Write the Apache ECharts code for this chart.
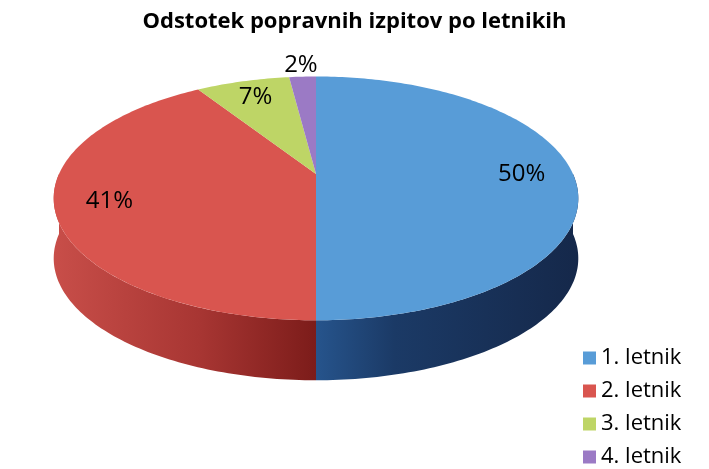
<!DOCTYPE html>
<html>
<head>
<meta charset="utf-8">
<script src="https://cdn.jsdelivr.net/npm/echarts@6/dist/echarts.min.js"></script>
<style>html,body{margin:0;padding:0;background:#fff}#c{width:709px;height:469px}</style>
</head>
<body>
<div id="c"></div>
<script>
// ---- data ----
const titleText = 'Odstotek popravnih izpitov po letnikih';
const categories = ['1. letnik', '2. letnik', '3. letnik', '4. letnik'];
const values = [50, 41, 7, 2];

// ---- styles ----
const topColors = ['#589CD7', '#D9554F', '#BED566', '#9B7AC5'];
const sideStops = [
  [[0, '#26548C'], [0.3, '#1B3A66'], [1, '#15284A']],
  [[0, '#C84E49'], [0.55, '#A83633'], [1, '#7C1C1A']],
  [[0, '#8FA24A'], [1, '#6F7F36']],
  [[0, '#74579A'], [1, '#573F76']]
];
const FONT = '"Open Sans", "Noto Sans", sans-serif';

// ---- 3D pie layout (projection parameters) ----
const L = { cx: 316, cy: 174, rx: 257, ry: 117, p: 0.2, depth: 60 };

function proj(t, r, dy) {
  const X = r * Math.sin(t), Z = r * Math.cos(t);
  const s = 1 / (1 + L.p * Z);
  return [L.cx + L.rx * X * s, L.cy - L.ry * Z * s + (dy || 0)];
}
function arcPts(a, b, r, dy) {
  const n = Math.max(2, Math.ceil((b - a) / (Math.PI / 180)));
  const pts = [];
  for (let k = 0; k <= n; k++) pts.push(proj(a + (b - a) * k / n, r, dy));
  return pts;
}

const total = values.reduce((s, v) => s + v, 0);
function sliceRange(i) {
  let acc = 0;
  for (let k = 0; k < i; k++) acc += values[k];
  const a = acc / total * Math.PI * 2;
  const b = (acc + values[i]) / total * Math.PI * 2;
  return [a, b];
}

function renderSlice(params, api) {
  const i = params.seriesIndex;
  const [a, b] = sliceRange(i);
  const children = [];
  // visible front side wall
  const sa = Math.max(a, Math.PI / 2), sb = Math.min(b, Math.PI * 1.5);
  if (sb > sa) {
    const topEdge = arcPts(sa, sb, 1, 0);
    const botEdge = arcPts(sa, sb, 1, L.depth).reverse();
    children.push({
      type: 'polygon', silent: true, z2: 1,
      shape: { points: topEdge.concat(botEdge) },
      style: { fill: { type: 'linear', x: 0, y: 0, x2: 1, y2: 0,
        colorStops: sideStops[i].map(s => ({ offset: s[0], color: s[1] })) } }
    });
  }
  // top face
  children.push({
    type: 'polygon', silent: true, z2: 5,
    shape: { points: [proj(0, 0, 0)].concat(arcPts(a, b, 1, 0)) },
    style: { fill: api.visual('color') }
  });
  // label
  const frac = values[i] / total;
  const mid = (a + b) / 2;
  const pos = frac >= 0.05 ? proj(mid, 0.8, 0) : proj(mid, 1.15, 0);
  children.push({
    type: 'text', silent: true, z2: 20, x: pos[0], y: pos[1],
    style: { text: Math.round(frac * 100) + '%', fill: '#000',
      fontSize: 24, fontFamily: FONT, align: 'center', verticalAlign: 'middle' }
  });
  return { type: 'group', children };
}

const chart = echarts.init(document.getElementById('c'), null, { renderer: 'canvas' });
chart.setOption({
  animation: false,
  backgroundColor: '#fff',
  title: {
    text: titleText, left: 'center', top: 6,
    textStyle: { fontFamily: FONT, fontWeight: 'bold', fontSize: 22, color: '#000' }
  },
  legend: {
    orient: 'vertical', left: 583, top: 347, padding: 0, height: 220,
    itemWidth: 13, itemHeight: 13, itemGap: 11, icon: 'rect',
    data: categories,
    textStyle: { fontFamily: FONT, fontSize: 22, color: '#000' }
  },
  series: categories.map((name, i) => ({
    type: 'custom', name, coordinateSystem: 'none',
    color: topColors[i],
    data: [values[i]],
    renderItem: renderSlice
  }))
});
</script>
</body>
</html>
